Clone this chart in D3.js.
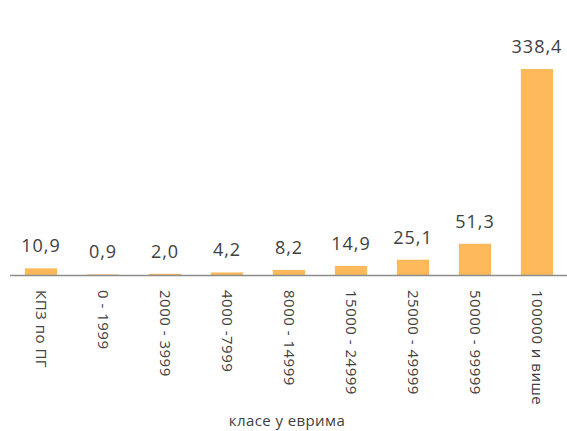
<!DOCTYPE html>
<html>
<head>
<meta charset="utf-8">
<script src="https://cdn.jsdelivr.net/npm/d3@7"></script>
<style>
	body { margin: 0; background: #fff; }
	text { font-family: "Open Sans", sans-serif; fill: #404040; }
</style>
</head>
<body>
<svg id="chart" width="567" height="431"></svg>
<script>

// categories and values
var categories = ["КПЗ по ПГ", "0 - 1999", "2000 - 3999", "4000 -7999", "8000 - 14999",
	"15000 - 24999", "25000 - 49999", "50000 - 99999", "100000 и више"];
var values = [10.9, 0.9, 2.0, 4.2, 8.2, 14.9, 25.1, 51.3, 338.4];
var axisTitle = "класе у еврима";

var BASE = 275;

var svg = d3.select("#chart");

var x = d3.scaleBand()
	.domain(categories)
	.range([10, 568])
	.paddingInner(0.48)
	.paddingOuter(0.24);

var y = d3.scaleLinear()
	.domain([0, 338.4])
	.range([BASE, 69]);

var data = categories.map(function(c, i) { return {cat: c, val: values[i]}; });

svg.selectAll("rect")
	.data(data)
	.enter().append("rect")
	.attr("x", function(d) { return x(d.cat); })
	.attr("y", function(d) { return y(d.val); })
	.attr("width", x.bandwidth())
	.attr("height", function(d) { return BASE - y(d.val); })
	.style("fill", "#fdb95a");

// value labels
svg.selectAll(".val")
	.data(data)
	.enter().append("text")
	.attr("class", "val")
	.attr("x", function(d) { return x(d.cat) + x.bandwidth() / 2; })
	.attr("y", function(d) { return y(d.val) - 16; })
	.attr("text-anchor", "middle")
	.style("font-size", "18px")
	.style("letter-spacing", "1px")
	.text(function(d) { return d.val.toFixed(1).replace(".", ","); });

// x axis
var axis = svg.append("g")
	.attr("transform", "translate(0," + BASE + ")")
	.call(d3.axisBottom(x).tickSize(0).tickPadding(0));

axis.select(".domain")
	.attr("d", "M10,0.5H567")
	.style("stroke", "#8c8c8c")
	.style("stroke-width", 1.5);

axis.selectAll(".tick text")
	.attr("transform", "rotate(90)")
	.attr("x", 15)
	.attr("y", 0)
	.attr("dy", "0.35em")
	.attr("text-anchor", "start")
	.style("font-family", "'Open Sans', sans-serif")
	.style("font-size", "15px")
	.style("letter-spacing", "0.5px")
	.style("fill", "#404040");

svg.append("text")
	.attr("x", 287)
	.attr("y", 426)
	.attr("text-anchor", "middle")
	.style("font-size", "15px")
	.style("letter-spacing", "0.4px")
	.text(axisTitle);

</script>
</body>
</html>
